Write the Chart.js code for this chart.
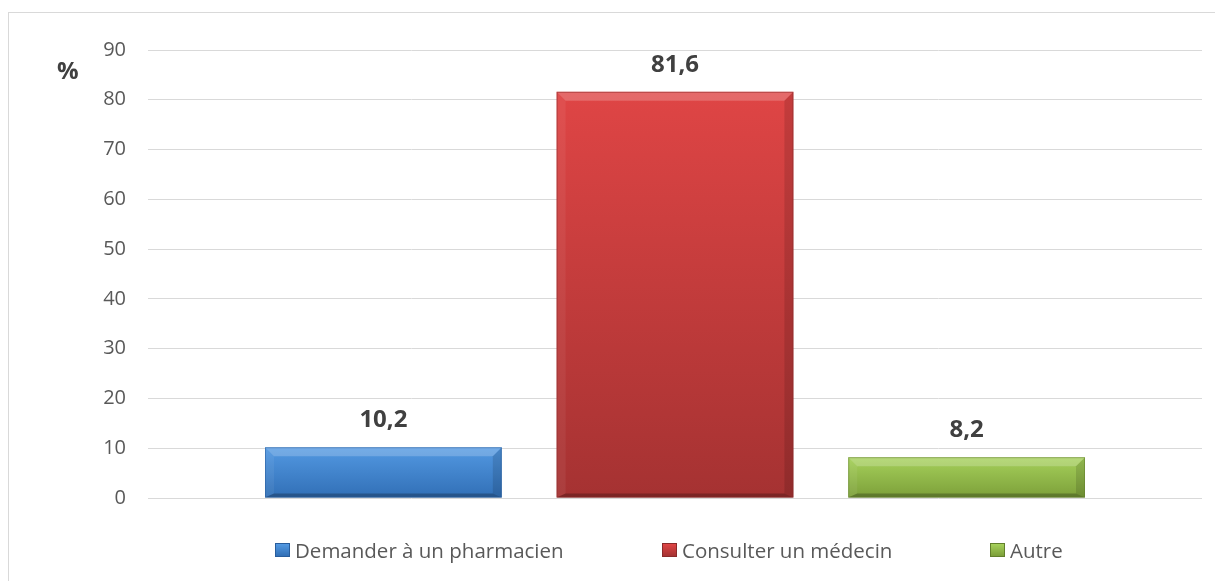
<!DOCTYPE html>
<html>
<head>
<meta charset="utf-8">
<script src="https://cdn.jsdelivr.net/npm/chart.js@4/dist/chart.umd.min.js"></script>
<style>
  html, body { margin: 0; padding: 0; background: #fff; }
  #wrap { position: relative; width: 1215px; height: 581px; overflow: hidden; }
  #frame { position: absolute; left: 8px; top: 12px; width: 1400px; height: 800px;
           border-left: 1px solid #d9d9d9; border-top: 1px solid #d9d9d9; }
  canvas { position: absolute; left: 0; top: 0; }
  #pct { position: absolute; left: 57px; top: 53px; font: bold 24px "Open Sans"; color: #404040; }
  .leg { position: absolute; top: 536px; font: 20.5px "Open Sans"; color: #595959; white-space: nowrap;
         display: flex; align-items: center; height: 28px; }
  .leg i { display: inline-block; width: 15px; height: 14px; margin-right: 5px; box-sizing: border-box; }
</style>
</head>
<body>
<div id="wrap">
  <div id="frame"></div>
  <canvas id="c" width="1215" height="581"></canvas>
  <div id="pct">%</div>
</div>
<script>
// ---- data ----
const categories = ['Demander à un pharmacien', 'Consulter un médecin', 'Autre'];
const values = [10.2, 81.6, 8.2];
const yMin = 0, yMax = 90, yStep = 10;
const yUnit = '%';
// ---- styles ----
const topColors = ['#5399e2', '#df4545', '#a6d15b'];
const bottomColors = ['#316fb6', '#a53232', '#7c9f39'];
const edgeColors = ['#285d9c', '#8a2a2a', '#627f2c'];
const legendX = [275, 662, 990];

function gradFor(ctx, i) {
  const chart = ctx.chart;
  const ys = chart.scales && chart.scales.y;
  if (!ys || !chart.chartArea) return topColors[i];
  const t = ys.getPixelForValue(values[i]);
  const b = ys.getPixelForValue(0);
  const g = chart.ctx.createLinearGradient(0, t, 0, b);
  g.addColorStop(0, topColors[i]);
  g.addColorStop(1, bottomColors[i]);
  return g;
}

const bevelPlugin = {
  id: 'bevel',
  afterDatasetsDraw(chart) {
    const c = chart.ctx;
    chart.data.datasets.forEach((ds, di) => {
      const meta = chart.getDatasetMeta(di);
      meta.data.forEach(el => {
        const p = el.getProps(['x', 'y', 'base', 'width'], true);
        const L = p.x - p.width / 2, R = p.x + p.width / 2, T = p.y, B = p.base;
        const bv = Math.min(9, (B - T) / 2);
        const bb = Math.min(4, (B - T) / 2);
        c.save();
        c.fillStyle = 'rgba(255,255,255,0.2)';
        c.beginPath(); c.moveTo(L, T); c.lineTo(R, T); c.lineTo(R - bv, T + bv); c.lineTo(L + bv, T + bv); c.closePath(); c.fill();
        c.fillStyle = 'rgba(255,255,255,0.06)';
        c.beginPath(); c.moveTo(L, T); c.lineTo(L + bv, T + bv); c.lineTo(L + bv, B - bb); c.lineTo(L, B); c.closePath(); c.fill();
        c.fillStyle = 'rgba(0,0,0,0.12)';
        c.beginPath(); c.moveTo(R, T); c.lineTo(R - bv, T + bv); c.lineTo(R - bv, B - bb); c.lineTo(R, B); c.closePath(); c.fill();
        c.fillStyle = 'rgba(0,0,0,0.25)';
        c.beginPath(); c.moveTo(L, B); c.lineTo(R, B); c.lineTo(R - bv, B - bb); c.lineTo(L + bv, B - bb); c.closePath(); c.fill();
        c.strokeStyle = edgeColors[di];
        c.globalAlpha = 0.55;
        c.lineWidth = 1;
        c.strokeRect(L + 0.5, T + 0.5, p.width - 1, B - T - 1);
        c.restore();
      });
    });
  }
};

const labelPlugin = {
  id: 'valueLabels',
  afterDatasetsDraw(chart) {
    const c = chart.ctx;
    c.save();
    c.font = 'bold 24px "Open Sans"';
    c.fillStyle = '#404040';
    c.textAlign = 'center';
    c.textBaseline = 'middle';
    chart.data.datasets.forEach((ds, di) => {
      const meta = chart.getDatasetMeta(di);
      meta.data.forEach((el, j) => {
        const p = el.getProps(['x', 'y'], true);
        c.fillText(String(ds.data[j]).replace('.', ','), p.x, p.y - 27);
      });
    });
    c.restore();
  }
};

const datasets = categories.map((name, i) => ({
  label: name,
  data: [values[i]],
  backgroundColor: ctx => gradFor(ctx, i),
  borderWidth: 0,
  categoryPercentage: 0.83,
  barPercentage: 0.812
}));

new Chart(document.getElementById('c'), {
  type: 'bar',
  data: { labels: [''], datasets },
  options: {
    responsive: false,
    animation: false,
    layout: { padding: { top: 50, right: 13, bottom: 83, left: 0 } },
    plugins: { legend: { display: false }, tooltip: { enabled: false } },
    scales: {
      x: { display: false },
      y: {
        min: yMin, max: yMax,
        afterFit(scale) { scale.width = 148; },
        ticks: { stepSize: yStep, padding: 22, color: '#595959', font: { family: 'Open Sans', size: 20 } },
        grid: { color: '#d9d9d9', lineWidth: 1, drawTicks: false },
        border: { display: false }
      }
    }
  },
  plugins: [bevelPlugin, labelPlugin]
});

document.getElementById('pct').textContent = yUnit;
const wrap = document.getElementById('wrap');
categories.forEach((name, i) => {
  const d = document.createElement('div');
  d.className = 'leg';
  d.style.left = legendX[i] + 'px';
  const box = document.createElement('i');
  box.style.background = 'linear-gradient(' + topColors[i] + ',' + bottomColors[i] + ')';
  box.style.border = '1px solid ' + edgeColors[i];
  d.appendChild(box);
  d.appendChild(document.createTextNode(name));
  wrap.appendChild(d);
});
</script>
</body>
</html>
